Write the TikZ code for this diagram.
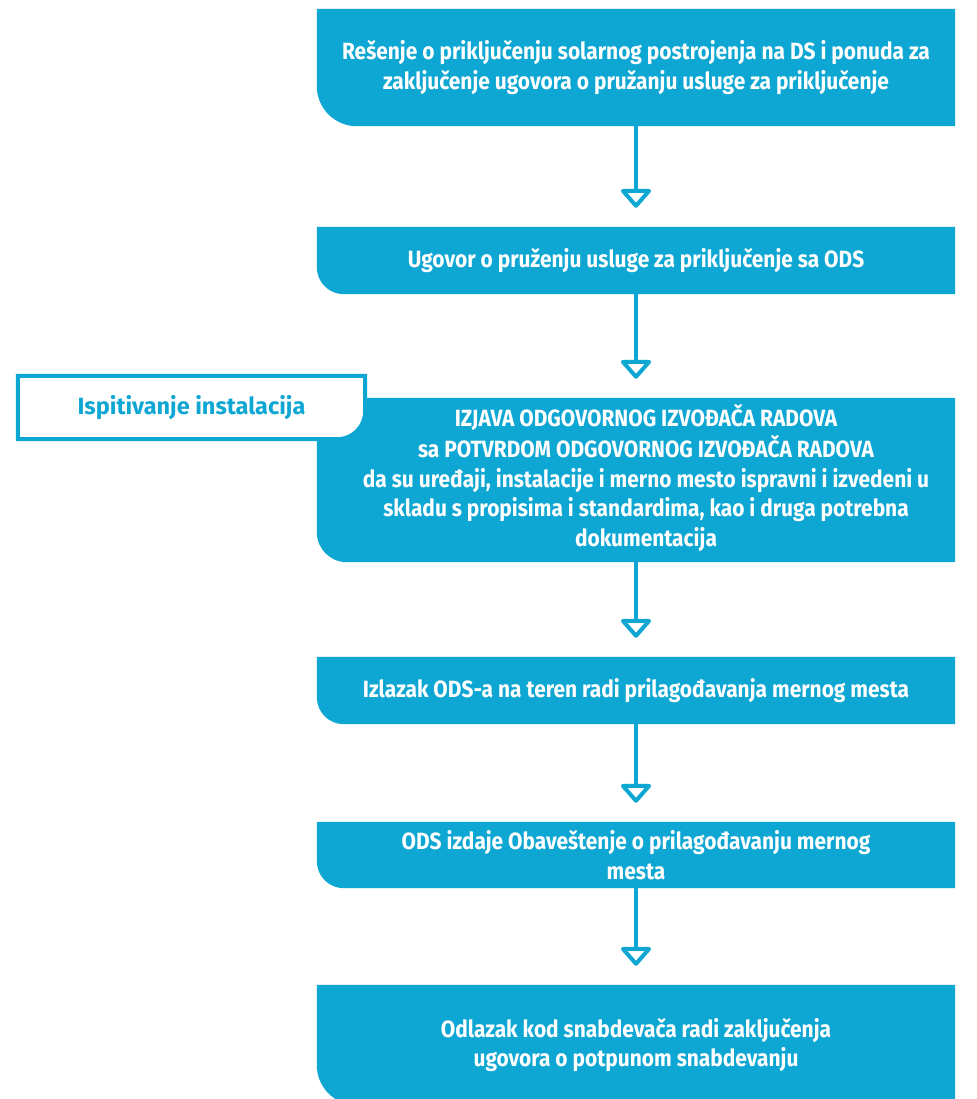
\documentclass[tikz,border=0pt]{standalone}
\usepackage{fontspec}
\setmainfont{Fira Sans}
\newfontfamily\condfont[FakeStretch=0.89]{Fira Sans}
\usetikzlibrary{arrows.meta,backgrounds}
\definecolor{odsblue}{HTML}{0EA7D3}
\tikzset{
  stepbox/.style={minimum width=638pt, inner sep=0pt, text=white, align=center,
    font=\condfont\bfseries\fontsize{23.5}{29.5}\selectfont},
  sidebox/.style={minimum width=347pt, minimum height=63pt, inner sep=0pt, text=odsblue,
    font=\bfseries\fontsize{23.5}{28}\selectfont},
  conn/.style={draw=odsblue, line width=4pt, shorten >=19pt,
    -{Triangle[open,length=20pt,width=34pt,round,line width=4pt]}},
}
\begin{document}
\begin{tikzpicture}[x=1pt,y=-1pt]
\useasboundingbox (0,0) rectangle (976,1099);

\node[stepbox, minimum height=117pt] (b1) at (636,67.5)
  {Rešenje o priključenju solarnog postrojenja na DS i ponuda za\\zaključenje ugovora o pružanju usluge za priključenje};
\node[stepbox, minimum height=67pt] (b2) at (636,260.5)
  {Ugovor o pruženju usluge za priključenje sa ODS};
\node[stepbox, minimum height=164pt, align=left] (b3) at (636,480)
  {\hspace*{20pt}\begin{tabular}{@{}c@{}}IZJAVA ODGOVORNOG IZVOĐAČA RADOVA\\sa POTVRDOM ODGOVORNOG IZVOĐAČA RADOVA\\da su uređaji, instalacije i merno mesto ispravni i izvedeni u\\skladu s propisima i standardima, kao i druga potrebna\\dokumentacija\end{tabular}};
\node[stepbox, minimum height=67pt] (b4) at (636,690.5)
  {Izlazak ODS-a na teren radi prilagođavanja mernog mesta};
\node[stepbox, minimum height=66pt] (b5) at (636,855)
  {ODS izdaje Obaveštenje o prilagođavanju mernog\\mesta};
\node[stepbox, minimum height=120pt] (b6) at (636,1045)
  {Odlazak kod snabdevača radi zaključenja\\ugovora o potpunom snabdevanju};

\node[sidebox] (lb) at (191.5,407.5) {Ispitivanje instalacija};

\begin{scope}[on background layer]
  \fill[white] (0,0) rectangle (976,1099);
  \foreach \n/\r in {b1/40,b2/27,b3/30,b4/27,b5/27,b6/40}
    \fill[odsblue] (\n.north west) -- (\n.north east) -- (\n.south east)
      -- ([xshift=\r pt]\n.south west) arc[start angle=90,end angle=180,radius=\r] -- cycle;
  \path[fill=white, draw=odsblue, line width=4pt] (lb.north west) -- (lb.north east)
    -- ([yshift=28pt]lb.south east) arc[start angle=0,end angle=90,radius=28] -- (lb.south west) -- cycle;
\end{scope}

\draw[conn] (b1) -- (b2);
\draw[conn] (b2) -- (b3);
\draw[conn] (b3) -- (b4);
\draw[conn] (b4) -- (b5);
\draw[conn] (b5) -- (b6);
\end{tikzpicture}
\end{document}
